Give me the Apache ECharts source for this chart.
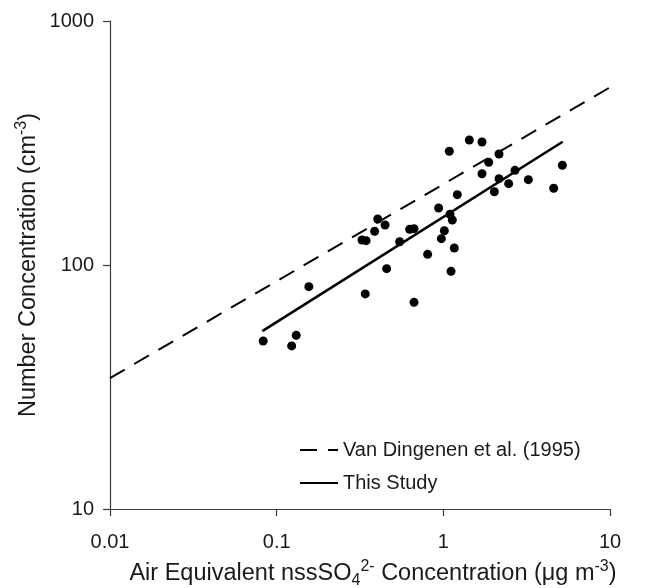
<!DOCTYPE html>
<html>
<head>
<meta charset="utf-8">
<style>
  html, body { margin: 0; padding: 0; background: #ffffff; }
  #chart { width: 645px; height: 588px; }
</style>
<script src="https://cdn.jsdelivr.net/npm/echarts@6/dist/echarts.min.js"></script>
</head>
<body>
<div id="chart"></div>
<script>
// ---- Data ----
const sulfate = [0.083, 0.123, 0.131, 0.156, 0.325, 0.344, 0.340, 0.387, 0.404, 0.447,
                 0.457, 0.547, 0.628, 0.667, 0.667, 0.805, 0.937, 0.973, 1.014, 1.096,
                 1.132, 1.112, 1.164, 1.213, 1.086, 1.432, 1.706, 1.706, 1.871, 2.158,
                 2.158, 2.023, 2.466, 2.692, 3.236, 4.592, 5.176];
const numberConc = [48.8, 46.6, 51.5, 81.5, 126.6, 125.8, 76.1, 137.4, 154.4, 145.8,
                    96.6, 124.6, 140.0, 140.9, 70.3, 110.6, 171.3, 128.2, 138.2, 161.4,
                    152.9, 94.2, 117.4, 194.2, 292.4, 325.3, 319.3, 236.7, 263.6, 285.1,
                    225.8, 199.7, 215.4, 244.3, 223.7, 206.3, 256.3];
const vanDingenenX = [0.01, 10];
const vanDingenenY = [34.4, 535];
const thisStudyX = [0.082, 5.2];
const thisStudyY = [53.6, 320];
const xTickLabels = ['0.01', '0.1', '1', '10'];
const yTickLabels = ['10', '100', '1000'];
const seriesNames = ['Van Dingenen et al. (1995)', 'This Study'];

const FONT = '"Liberation Sans", Arial, sans-serif';
const TXT = '#1a1a1a';
const AX = '#3a3a3a';

const zip = (a, b) => a.map((v, i) => [v, b[i]]);

function fmtTick(labels) {
  return function (v) {
    for (const l of labels) {
      if (Math.abs(Math.log10(v) - Math.log10(parseFloat(l))) < 1e-6) return l;
    }
    return '';
  };
}

const chart = echarts.init(document.getElementById('chart'), null, { renderer: 'canvas' });
chart.setOption({
  animation: false,
  backgroundColor: '#ffffff',
  grid: { left: 110, right: 35, top: 21, bottom: 79, containLabel: false, outerBoundsMode: 'none' },
  xAxis: {
    type: 'log', logBase: 10, min: 0.01, max: 10,
    splitLine: { show: false },
    minorTick: { show: false },
    axisLine: { show: true, lineStyle: { color: AX, width: 1.2 } },
    axisTick: { show: true, length: 7, lineStyle: { color: AX, width: 1.2 } },
    axisLabel: { fontFamily: FONT, fontSize: 20, color: TXT, margin: 23, formatter: fmtTick(xTickLabels) },
    name: 'Air Equivalent nssSO{sub|4}{sup|2-} Concentration (μg m{sup|-3})',
    nameLocation: 'middle',
    nameGap: 50,
    nameMoveOverlap: false,
    nameTextStyle: {
      fontFamily: FONT, fontSize: 23.5, color: TXT, lineHeight: 30,
      padding: [0, 0, 0, 26],
      rich: {
        sub: { fontFamily: FONT, fontSize: 16, color: TXT, lineHeight: 15, verticalAlign: 'bottom' },
        sup: { fontFamily: FONT, fontSize: 16, color: TXT, lineHeight: 15, verticalAlign: 'top' }
      }
    }
  },
  yAxis: {
    type: 'log', logBase: 10, min: 10, max: 1000,
    splitLine: { show: false },
    minorTick: { show: false },
    axisLine: { show: true, lineStyle: { color: AX, width: 1.2 } },
    axisTick: { show: true, length: 7, lineStyle: { color: AX, width: 1.2 } },
    axisLabel: { fontFamily: FONT, fontSize: 20, color: TXT, margin: 16, formatter: fmtTick(yTickLabels) },
    name: 'Number Concentration (cm{sup|-3})',
    nameLocation: 'middle',
    nameGap: 66,
    nameMoveOverlap: false,
    nameRotate: 90,
    nameTextStyle: {
      fontFamily: FONT, fontSize: 23.5, color: TXT, lineHeight: 30,
      rich: {
        sup: { fontFamily: FONT, fontSize: 16, color: TXT, lineHeight: 15, verticalAlign: 'top' }
      }
    }
  },
  legend: {
    orient: 'vertical',
    left: 294, top: 435,
    itemWidth: 38, itemHeight: 14, itemGap: 13,
    data: seriesNames,
    textStyle: { fontFamily: FONT, fontSize: 20, color: TXT },
    itemStyle: { opacity: 0 },
    selectedMode: false
  },
  series: [
    {
      type: 'scatter',
      name: 'data',
      data: zip(sulfate, numberConc),
      symbol: 'circle',
      symbolSize: 9,
      itemStyle: { color: '#000000', opacity: 1 },
      z: 3
    },
    {
      type: 'line',
      name: seriesNames[0],
      data: zip(vanDingenenX, vanDingenenY),
      showSymbol: false, symbol: 'none',
      lineStyle: { color: '#000000', width: 2, type: [17, 11] },
      itemStyle: { color: '#000000' },
      z: 2
    },
    {
      type: 'line',
      name: seriesNames[1],
      data: zip(thisStudyX, thisStudyY),
      showSymbol: false, symbol: 'none',
      lineStyle: { color: '#000000', width: 2.6 },
      itemStyle: { color: '#000000' },
      z: 2
    }
  ]
});
</script>
</body>
</html>
